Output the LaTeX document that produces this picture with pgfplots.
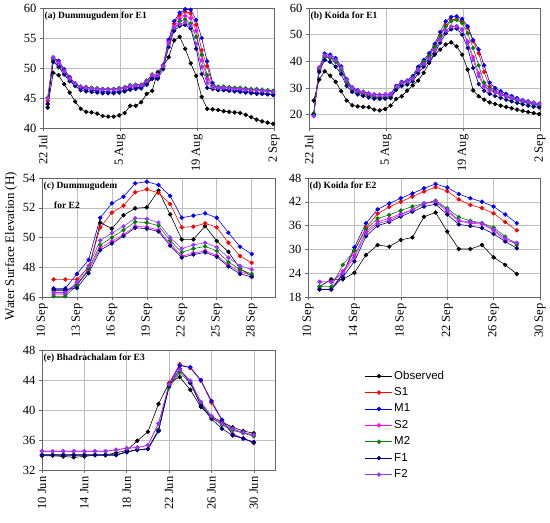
\documentclass[border=0pt]{standalone}
\usepackage{fontspec}
\setmainfont{Liberation Serif}
\newfontfamily\sansleg{Liberation Sans}
\usepackage{pgfplots}
\usepackage{pgfplotstable}
\pgfplotsset{compat=1.18}
\definecolor{cM2}{HTML}{008000}
\definecolor{cF1}{HTML}{000080}
\definecolor{cF2}{HTML}{9933FF}
\definecolor{cS2}{HTML}{FF00FF}

\pgfplotstableread{
x obs s1 m1 s2 m2 f1 f2
1 43.4 44.5 44.0 45.0 45.0 44.0 45.0
2 49.2 51.5 51.7 51.7 51.3 51.0 51.8
3 48.8 50.8 51.2 50.9 50.1 50.3 50.7
4 47.3 49.5 49.8 49.5 49.0 48.9 49.4
5 45.9 48.3 48.5 48.3 48.0 47.8 48.2
6 44.4 47.3 47.4 47.4 47.2 47.0 47.4
7 43.2 46.8 46.7 46.9 46.9 46.3 46.9
8 42.7 46.7 46.4 46.8 46.8 46.1 46.7
9 42.6 46.6 46.3 46.7 46.7 46.0 46.6
10 42.4 46.5 46.2 46.6 46.6 45.9 46.5
11 42.0 46.4 46.1 46.5 46.5 45.8 46.4
12 41.9 46.4 46.0 46.5 46.5 45.8 46.4
13 41.9 46.4 46.0 46.5 46.5 45.8 46.4
14 42.1 46.5 46.1 46.6 46.6 45.9 46.5
15 42.5 46.6 46.3 46.8 46.8 46.1 46.7
16 43.7 46.9 46.6 47.1 47.1 46.4 47.0
17 43.7 47.0 46.7 47.2 47.2 46.5 47.1
18 44.3 47.0 46.8 47.2 47.2 46.6 47.1
19 45.7 47.6 47.4 47.9 47.9 47.2 47.8
20 46.2 48.6 48.3 48.9 48.9 48.2 48.8
21 49.3 48.6 48.4 48.9 48.8 48.2 48.8
22 50.3 50.4 50.5 50.4 50.3 49.8 50.3
23 51.8 54.5 54.7 54.3 54.0 53.5 54.0
24 54.6 57.4 57.8 56.9 56.5 56.2 56.7
25 55.2 58.8 59.2 58.2 57.8 57.0 57.3
26 53.2 59.4 59.8 58.7 58.1 57.2 57.6
27 50.8 59.1 59.7 58.3 57.4 56.6 57.0
28 48.7 57.2 58.0 56.2 55.2 53.2 54.0
29 45.2 53.0 55.0 51.3 52.2 49.0 50.2
30 43.2 50.3 51.1 48.2 48.8 46.7 47.5
31 43.1 47.0 47.5 46.9 46.9 46.5 46.8
32 43.0 46.8 46.6 46.8 46.9 46.3 46.7
33 42.8 46.8 46.5 46.8 46.9 46.3 46.7
34 42.7 46.7 46.4 46.7 46.8 46.2 46.6
35 42.6 46.6 46.3 46.6 46.7 46.1 46.5
36 42.5 46.5 46.2 46.6 46.7 46.0 46.5
37 42.2 46.4 46.1 46.5 46.6 45.9 46.4
38 41.8 46.4 46.0 46.4 46.5 45.8 46.3
39 41.4 46.3 45.9 46.4 46.5 45.7 46.3
40 41.1 46.2 45.8 46.3 46.4 45.7 46.2
41 40.9 46.1 45.7 46.2 46.3 45.6 46.1
42 40.7 46.0 45.6 46.1 46.2 45.5 46.0
}\tabA

\pgfplotstableread{
x obs s1 m1 s2 m2 f1 f2
1 25.3 20.0 20.0 19.5 20.5 20.0 19.5
2 33.1 37.0 37.5 37.5 36.5 36.0 37.8
3 36.3 42.0 42.9 41.8 41.5 40.5 42.3
4 34.6 41.8 42.5 41.3 41.2 39.8 41.8
5 32.3 40.3 41.2 40.0 39.8 38.0 40.5
6 28.8 37.2 38.1 37.0 36.8 35.2 37.5
7 25.3 32.5 33.3 32.3 32.0 30.8 33.0
8 23.5 29.8 30.2 29.6 29.3 28.5 30.0
9 23.1 28.7 29.2 28.6 28.3 27.6 29.0
10 22.9 28.0 28.6 28.0 27.6 27.0 28.5
11 22.8 27.3 28.0 27.4 27.0 26.4 27.9
12 21.9 26.7 27.6 27.0 26.5 26.0 27.5
13 21.6 26.5 27.5 26.9 26.3 25.9 27.4
14 22.1 26.6 27.6 27.0 26.4 26.0 27.5
15 23.4 26.8 27.8 27.2 26.6 26.2 27.7
16 25.9 30.3 30.8 30.3 30.0 29.3 30.6
17 26.9 31.8 32.3 31.8 31.5 30.8 32.0
18 29.0 32.3 32.8 32.3 32.2 31.3 32.5
19 31.0 34.0 34.5 33.5 33.8 32.5 33.5
20 32.8 37.5 38.0 36.8 37.2 35.5 36.8
21 35.7 40.0 40.5 39.0 39.8 38.0 39.0
22 39.4 42.3 43.0 41.0 42.0 40.0 41.0
23 42.5 45.8 46.5 44.0 45.5 43.0 44.0
24 44.4 50.0 51.0 48.0 49.5 47.0 48.0
25 46.3 53.5 55.0 51.5 53.0 50.5 51.5
26 47.1 55.5 56.6 53.0 55.0 52.0 53.0
27 45.6 55.9 56.9 53.2 55.5 52.3 53.0
28 42.5 55.0 55.9 51.8 54.3 50.0 52.0
29 36.9 52.5 53.1 47.5 50.5 45.0 47.0
30 29.1 47.5 48.0 41.5 45.0 37.5 40.5
31 26.9 43.0 44.5 35.5 38.5 31.5 34.5
32 25.6 36.0 38.5 30.8 32.0 29.0 30.5
33 24.6 30.5 32.0 29.3 29.8 27.8 29.2
34 24.0 29.0 30.0 28.3 28.5 27.0 28.3
35 23.4 28.0 28.8 27.5 27.5 26.3 27.6
36 22.9 27.0 27.8 26.8 26.7 25.6 26.9
37 22.4 26.3 27.0 26.1 26.0 25.0 26.3
38 21.9 25.6 26.2 25.5 25.3 24.4 25.7
39 21.4 25.0 25.5 25.0 24.8 23.9 25.2
40 21.0 24.5 25.0 24.5 24.2 23.4 24.7
41 20.6 24.0 24.5 24.1 23.8 23.0 24.3
42 20.2 23.6 24.1 23.8 23.3 22.7 24.0
}\tabB

\pgfplotstableread{
x obs s1 m1 s2 m2 f1 f2
1 46.42 47.18 46.58 46.20 46.05 46.50 46.30
2 46.42 47.18 46.58 46.20 46.05 46.50 46.30
3 46.80 47.18 47.55 46.90 46.80 46.60 47.00
4 47.80 48.00 48.50 47.80 47.90 47.60 48.10
5 51.00 50.68 51.33 49.30 49.50 49.15 49.80
6 50.60 51.67 52.30 49.75 50.00 49.60 50.30
7 51.50 52.14 52.74 50.20 50.50 50.10 50.75
8 51.96 53.04 53.64 50.75 51.05 50.65 51.30
9 52.03 53.24 53.75 50.70 51.00 50.60 51.25
10 53.15 53.00 53.53 50.50 50.80 50.40 51.00
11 51.55 52.25 52.80 49.60 49.80 49.45 50.00
12 49.87 50.68 51.33 48.75 49.00 48.65 49.25
13 49.87 50.73 51.47 48.95 49.25 48.85 49.50
14 50.77 50.95 51.62 49.10 49.40 49.00 49.65
15 49.76 50.68 51.33 48.80 49.10 48.70 49.35
16 49.04 49.65 50.32 48.15 48.35 48.05 48.65
17 47.90 48.75 49.38 47.70 47.85 47.55 48.10
18 47.40 48.30 48.89 47.45 47.55 47.35 47.85
}\tabC

\pgfplotstableread{
x obs s1 m1 s2 m2 f1 f2
1 20.60 20.0 19.9 21.8 20.6 19.9 21.8
2 22.45 20.0 19.9 21.8 20.6 19.9 21.8
3 22.45 24.0 23.7 24.5 26.1 23.0 24.0
4 24.10 29.8 30.5 28.5 29.7 27.0 28.0
5 28.60 35.5 36.6 34.5 35.1 33.3 34.0
6 31.10 39.0 40.1 37.0 37.8 36.0 36.5
7 30.70 40.7 41.6 37.8 38.7 36.9 37.3
8 32.40 42.0 42.9 39.0 39.8 38.3 38.7
9 33.00 43.3 44.1 40.0 40.8 39.5 40.0
10 38.25 44.6 45.4 41.5 41.6 40.8 41.6
11 39.30 45.7 46.5 42.0 42.3 41.4 42.2
12 34.50 44.7 45.6 39.6 40.35 38.8 40.0
13 30.10 42.6 43.96 37.2 38.1 36.3 37.3
14 30.10 41.2 42.9 36.6 37.2 35.9 36.9
15 31.10 40.4 42.0 36.4 36.7 35.4 36.6
16 28.00 39.1 40.8 34.8 35.5 33.9 35.0
17 26.10 36.9 38.8 32.3 33.2 32.0 32.8
18 23.80 34.8 36.6 31.5 31.1 30.3 31.7
}\tabD

\pgfplotstableread{
x obs s1 m1 s2 m2 f1 f2
0 33.9 34.0 34.0 34.5 34.0 34.0 34.5
1 33.9 34.0 34.0 34.5 34.0 34.0 34.5
2 33.8 34.0 34.0 34.5 34.0 34.0 34.5
3 33.7 34.0 34.0 34.5 34.0 34.0 34.5
4 33.8 34.0 34.0 34.5 34.0 34.0 34.5
5 34.0 34.0 34.0 34.5 34.0 34.0 34.5
6 34.0 34.0 34.0 34.5 34.0 34.0 34.5
7 34.3 34.0 34.0 34.7 34.0 34.0 34.7
8 34.6 34.4 34.4 34.9 34.4 34.4 34.9
9 35.9 34.7 34.7 35.0 34.7 34.7 35.0
10 37.1 34.8 34.8 35.3 34.8 34.8 35.3
11 40.8 37.3 37.2 38.2 37.4 37.2 38.2
12 43.6 43.6 43.4 43.3 43.0 43.2 43.4
13 44.4 46.1 45.9 45.2 45.0 45.5 45.4
14 42.7 45.6 45.7 43.8 43.6 43.6 43.9
15 40.4 43.9 44.0 41.0 40.8 40.6 41.1
16 39.1 41.0 41.2 39.1 39.0 38.8 39.2
17 38.4 38.6 38.7 38.1 38.0 37.5 38.2
18 37.7 36.8 36.7 37.4 37.3 36.6 37.5
19 37.2 36.2 36.2 37.0 36.9 36.2 37.0
20 36.9 35.6 35.7 36.6 36.5 35.7 36.7
}\tabE

\pgfplotsset{
  panel/.style={
    scale only axis,
    anchor=south west,
    grid=major,
    grid style={line width=0.5pt, draw=gray!50},
    axis line style={line width=0.6pt, draw=gray!80!black},
    tick pos=left, tick align=outside, major tick length=3pt,
    tick style={line width=0.5pt, draw=gray!80!black},
    xticklabel style={rotate=90, anchor=east, font=\fontsize{12.5}{14}\selectfont},
    yticklabel style={font=\fontsize{12.5}{14}\selectfont},
    /pgf/number format/assume math mode=true,
    every axis plot/.append style={line width=0.6pt, mark=*, mark size=1.9pt},
  },
}
\tikzset{
  ptitle/.style={anchor=north west, inner xsep=1.5pt, inner ysep=4pt, font=\bfseries\fontsize{9.5}{11}\selectfont},
}

\newcommand{\allseries}[1]{%
  \addplot[black] table[x=x,y=obs]{#1};
  \addplot[red] table[x=x,y=s1]{#1};
  \addplot[blue] table[x=x,y=m1]{#1};
  \addplot[cS2] table[x=x,y=s2]{#1};
  \addplot[cM2] table[x=x,y=m2]{#1};
  \addplot[cF1] table[x=x,y=f1]{#1};
  \addplot[cF2] table[x=x,y=f2]{#1};
}

\begin{document}
\begin{tikzpicture}
\path[use as bounding box] (0pt,0pt) rectangle (550pt,523pt);

% (a)
\begin{axis}[panel, at={(43pt,395pt)}, width=231pt, height=120pt,
  xmin=0.15, xmax=42.15, ymin=40, ymax=60, ytick={40,45,50,55,60},
  xtick={0.15,14.15,28.15,42.15}, xticklabels={22 Jul,5 Aug,19 Aug,2 Sep}]
  \allseries{\tabA}
  \node[ptitle] at (rel axis cs:0,1) {(a) Dummugudem for E1};
\end{axis}

% (b)
\begin{axis}[panel, at={(309pt,395pt)}, width=231pt, height=120pt,
  xmin=0.15, xmax=42.15, ymin=15, ymax=60, ytick={20,30,40,50,60},
  xtick={0.15,14.15,28.15,42.15}, xticklabels={22 Jul,5 Aug,19 Aug,2 Sep}]
  \allseries{\tabB}
  \node[ptitle] at (rel axis cs:0,1) {(b) Koida for E1};
\end{axis}

% (c)
\begin{axis}[panel, at={(42pt,226pt)}, width=233pt, height=119pt,
  xmin=0, xmax=20, ymin=46, ymax=54, ytick={46,48,50,52,54},
  xtick={0,3,6,9,12,15,18}, xticklabels={10 Sep,13 Sep,16 Sep,19 Sep,22 Sep,25 Sep,28 Sep}]
  \allseries{\tabC}
  \node[ptitle] at (rel axis cs:0,1) {(c) Dummugudem};
  \node[ptitle, inner ysep=0pt] at (rel axis cs:0.045,0.80) {for E2};
\end{axis}

% (d)
\begin{axis}[panel, at={(308pt,226pt)}, width=232pt, height=119pt,
  xmin=0, xmax=20, ymin=18, ymax=48, ytick={18,24,30,36,42,48},
  xtick={0,4,8,12,16,20}, xticklabels={10 Sep,14 Sep,18 Sep,22 Sep,26 Sep,30 Sep}]
  \allseries{\tabD}
  \node[ptitle] at (rel axis cs:0,1) {(d) Koida for E2};
\end{axis}

% (e)
\begin{axis}[panel, at={(42pt,53pt)}, width=233pt, height=120pt,
  xmin=0, xmax=22, ymin=32, ymax=48, ytick={32,36,40,44,48},
  xtick={0,4,8,12,16,20}, xticklabels={10 Jun,14 Jun,18 Jun,22 Jun,26 Jun,30 Jun},
  legend style={at={(1.386,0.842)}, anchor=north west, draw=none, fill=none,
    font=\sansleg\fontsize{11.5}{13}\selectfont, row sep=2.4pt, inner sep=0pt,
    nodes={inner sep=1.5pt, text height=8.5pt, text depth=2.5pt}},
  legend cell align=left,
  legend image code/.code={\draw[mark repeat=2,mark phase=2] plot coordinates {(0pt,0pt) (13.5pt,0pt) (27pt,0pt)};}]
  \allseries{\tabE}
  \legend{Observed,S1,M1,S2,M2,F1,F2}
  \node[ptitle] at (rel axis cs:0,1) {(e) Bhadrachalam for E3};
\end{axis}

\node[rotate=90, font=\fontsize{13}{15}\selectfont] at (11pt,277pt) {Water Surface Elevation (H)};
\end{tikzpicture}
\end{document}
